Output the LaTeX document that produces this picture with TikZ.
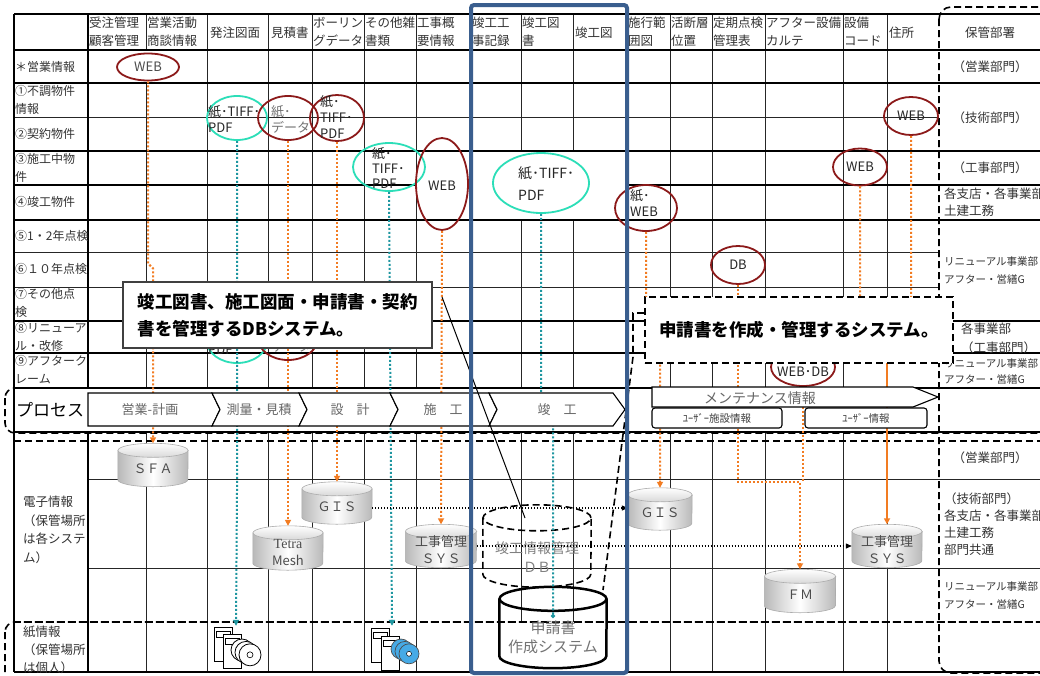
\documentclass[tikz,border=0pt]{standalone}
\usepackage{fontspec}
\setmainfont{Noto Sans CJK JP}
\newfontfamily\latinserif{Liberation Serif}
\usetikzlibrary{shapes.geometric,arrows.meta,calc}

\definecolor{dred}{RGB}{140,26,26}
\definecolor{aqua}{RGB}{44,222,184}
\definecolor{orng}{RGB}{242,124,34}
\definecolor{tealdot}{RGB}{30,150,160}
\definecolor{navy}{RGB}{58,94,142}
\definecolor{cdblue}{RGB}{70,170,230}

% grey database cylinder: name, cx, cy, width, height, label
\newcommand{\dbcyl}[6]{%
  \node[minimum width=#4pt, minimum height=#5pt, inner sep=0pt] (#1) at (#2,#3) {};
  \shade[left color=gray!55, right color=gray!55, middle color=white, draw=gray!65, line width=0.6pt]
    ($(#1.north west)+(0,7)$) -- ($(#1.south west)+(0,-7)$)
    arc[start angle=180, end angle=360, x radius=#4pt/2, y radius=7pt]
    -- ($(#1.north east)+(0,7)$) -- cycle;
  \shade[top color=white, bottom color=gray!30, draw=gray!65, line width=0.6pt]
    ($(#1.north)+(0,7)$) ellipse[x radius=#4pt/2, y radius=7pt];
  \node[cyltext] at ($(#1.center)+(0,4)$) {#6};
}

\begin{document}
\begin{tikzpicture}[x=1pt,y=-1pt,
  gl/.style={line width=0.9pt, black!85},
  gk/.style={line width=2.4pt, black},
  dsh/.style={line width=1.6pt, black, dash pattern=on 7pt off 4pt},
  redell/.style={ellipse, draw=dred, line width=1.8pt, inner sep=0pt},
  aquaell/.style={ellipse, draw=aqua, line width=1.8pt, inner sep=0pt},
  etxt/.style={font=\fontsize{13}{16}\selectfont, align=left, inner sep=0pt, text=black!85},
  odot/.style={draw=orng, line width=2pt, dash pattern=on 2pt off 2pt, -{Triangle[length=6pt,width=6pt]}},
  odotnt/.style={draw=orng, line width=2pt, dash pattern=on 2pt off 2pt},
  osolid/.style={draw=orng, line width=1.6pt, -{Triangle[length=6pt,width=6pt]}},
  tdot/.style={draw=tealdot, line width=2pt, dash pattern=on 2pt off 2pt, -{Triangle[length=6pt,width=6pt]}},
  kdot/.style={draw=black, line width=1.1pt, dash pattern=on 1.1pt off 1.9pt, -{Triangle[length=6pt,width=5pt]}},
  hdr/.style={font=\fontsize{12.5}{18}\selectfont, text=black!80, align=left, inner sep=0pt, anchor=west},
  lbl/.style={font=\fontsize{12}{18}\selectfont, text=black!80, align=left, inner sep=0pt, anchor=west},
  dept/.style={font=\fontsize{12.5}{17}\selectfont, text=black!80, align=left, inner sep=0pt, anchor=west},
  deptsm/.style={font=\fontsize{10.5}{18}\selectfont, text=black!80, align=left, inner sep=0pt, anchor=west},
  chev/.style={draw=black, fill=white, line width=1.1pt},
  ctxt/.style={font=\fontsize{13}{15}\selectfont, text=black!60, inner sep=0pt},
  cyltext/.style={font=\fontsize{13}{17}\selectfont, text=black!70, align=center, inner sep=0pt},
  callout/.style={fill=white, line width=1.1pt, inner sep=0pt, align=left,
                  font=\bfseries\fontsize{17.5}{27}\selectfont},
]
\clip (0,0) rectangle (1040,675);
\fill[white] (0,0) rectangle (1040,675);

% ---------- grid: vertical rules ----------
\foreach \x in {207,268,312,364,416,470,627,670,712,765,843,887}
  \draw[gl] (\x,14) -- (\x,388);
\draw[gl] (146,14) -- (146,50);
\draw[gl] (146,83) -- (146,388);
\foreach \x in {521,573} {
  \draw[gl] (\x,14) -- (\x,151);
  \draw[gl] (\x,220) -- (\x,388);
  \draw[gl] (\x,432) -- (\x,622);
}
\foreach \x in {146,207,268,312,364,416,470,627,670,712,765,843,887}
  \draw[gl] (\x,432) -- (\x,672);

% ---------- grid: horizontal rules ----------
\foreach \y in {117,252,287} \draw[gl] (14,\y) -- (939,\y);
\foreach \y in {479,568} \draw[gl] (88,\y) -- (1040,\y);
\foreach \y in {14,50,83,151,220,388,432,672} \draw[gk] (14,\y) -- (1040,\y);
\draw[gk] (14,185) -- (416,185);
\draw[gk] (627,185) -- (1040,185);
\foreach \y in {321,353} {\draw[gk] (14,\y) -- (939,\y); \draw[gk] (953,\y) -- (1040,\y);}
\draw[gk] (14,14) -- (14,672);
\draw[gk] (88,14) -- (88,388);
\draw[gk] (88,432) -- (88,672);

% ---------- dashed groupings ----------
\draw[dsh] (14,441) -- (1040,441);
\draw[dsh] (14,622) -- (1040,622);
\draw[dsh, rounded corners=12pt] (939,7) rectangle (1090,673);
\draw[dsh, rounded corners=10pt] (5,388) rectangle (1090,433);
\draw[dsh, rounded corners=10pt] (5,622) rectangle (1090,700);

% ---------- column headings ----------
\node[hdr] (h1) at (89,32) {受注管理\\顧客管理};
\node[hdr] (h2) at (147,32) {営業活動\\商談情報};
\node[hdr] (h3) at (210,33) {発注図面};
\node[hdr] (h4) at (271,33) {見積書};
\node[hdr] (h5) at (313,32) {ボーリン\\グデータ};
\node[hdr] (h6) at (365,32) {その他雑\\書類};
\node[hdr] (h7) at (417,32) {工事概\\要情報};
\node[hdr] (h8) at (472,32) {竣工工\\事記録};
\node[hdr] (h9) at (522,32) {竣工図\\書};
\node[hdr] (h10) at (575,33) {竣工図};
\node[hdr] (h11) at (628,32) {施行範\\囲図};
\node[hdr] (h12) at (671,32) {活断層\\位置};
\node[hdr] (h13) at (713,32) {定期点検\\管理表};
\node[hdr] (h14) at (766,32) {アフター設備\\カルテ};
\node[hdr] (h15) at (844,32) {設備\\コード};
\node[hdr] (h16) at (889,33) {住所};
\node[hdr, anchor=center] (h17) at (990,33) {保管部署};

% ---------- row headings ----------
\node[lbl] (r0) at (15,67) {＊営業情報};
\node[lbl] (r1) at (15,100) {①不調物件\\情報};
\node[lbl] (r2) at (15,134) {②契約物件};
\node[lbl] (r3) at (15,168) {③施工中物\\件};
\node[lbl] (r4) at (15,202) {④竣工物件};
\node[lbl] (r5) at (15,236) {⑤1・2年点検};
\node[lbl] (r6) at (15,269) {⑥１０年点検};
\node[lbl] (r7) at (15,303) {⑦その他点\\検};
\node[lbl] (r8) at (15,337) {⑧リニューア\\ル・改修};
\node[lbl] (r9) at (15,370) {⑨アフターク\\レーム};
\node[font=\fontsize{17}{20}\selectfont, anchor=west, inner sep=0pt] (rp) at (16,410) {プロセス};
\node[lbl, font=\fontsize{12.5}{18.5}\selectfont] (re) at (23,530) {電子情報\\（保管場所\\は各システ\\ム）};
\node[lbl, font=\fontsize{12.5}{18}\selectfont] (rpa) at (23,650) {紙情報\\（保管場所\\は個人）};

% ---------- departments ----------
\node[dept, anchor=center] (d0) at (990,67) {（営業部門）};
\node[dept, anchor=center] (d1) at (990,118) {（技術部門）};
\node[dept, anchor=center] (d2) at (990,168) {（工事部門）};
\node[dept] (d3) at (944,202) {各支店・各事業部\\土建工務};
\node[deptsm] (d4) at (944,271) {リニューアル事業部\\アフター・営繕G};
\node[dept, font=\fontsize{12.5}{19}\selectfont] (d5) at (961,338) {各事業部\\（工事部門）};
\node[deptsm, font=\fontsize{10.5}{16}\selectfont] (d6) at (944,372) {リニューアル事業部\\アフター・営繕G};
\node[dept, anchor=center] (d7) at (990,458) {（営業部門）};
\node[dept] (d8) at (944,524) {（技術部門）\\各支店・各事業部\\土建工務\\部門共通};
\node[deptsm] (d9) at (944,595) {リニューアル事業部\\アフター・営繕G};

% ---------- media ellipses ----------
\node[aquaell, minimum width=60pt, minimum height=44pt] (eT1b) at (237,341) {};
\node[etxt] at (208,341) [anchor=west] {紙･TIFF･\\PDF};
\node[redell, minimum width=60pt, minimum height=44pt] (eDb) at (288,338) {};
\node[etxt, text=black!55] at (272,338) [anchor=west] {紙･\\データ};

\node[redell, minimum width=62pt, minimum height=27pt] (eW1) at (148,67) {};
\node[etxt, text=black!70] at (eW1) {WEB};
\node[aquaell, minimum width=60pt, minimum height=44pt] (eT1) at (237,118) {};
\node[etxt, anchor=west] at (208,119) {紙･TIFF･\\PDF};
\node[redell, minimum width=60pt, minimum height=44pt] (eD) at (288,118) {};
\node[etxt, anchor=west, text=black!55] at (271,119) {紙･\\データ};
\node[redell, minimum width=54pt, minimum height=46pt] (eB) at (337,118) {};
\node[etxt, anchor=west, font=\fontsize{13}{16}\selectfont] at (320,117) {紙･\\TIFF･\\PDF};
\node[aquaell, minimum width=72pt, minimum height=48pt] (eT2) at (389,167) {};
\node[etxt, anchor=west, font=\fontsize{13}{15}\selectfont] at (372,168) {紙･\\TIFF･\\PDF};
\node[redell, minimum width=52pt, minimum height=92pt] (eW2) at (442,184) {};
\node[etxt] at (442,186) {WEB};
\node[aquaell, minimum width=96pt, minimum height=60pt] (eT3) at (541,183) {};
\node[etxt, anchor=west, font=\fontsize{14}{22}\selectfont] at (518,184) {紙･TIFF･\\PDF};
\node[redell, minimum width=62pt, minimum height=46pt] (eW3) at (646,208) {};
\node[etxt, anchor=west, font=\fontsize{13}{16}\selectfont] at (630,203) {紙･\\WEB};
\node[redell, minimum width=54pt, minimum height=38pt] (eW4) at (911,116) {};
\node[etxt] at (eW4) {WEB};
\node[redell, minimum width=54pt, minimum height=37pt] (eW5) at (860,167) {};
\node[etxt] at (eW5) {WEB};
\node[redell, minimum width=54pt, minimum height=38pt] (eDB) at (738,265) {};
\node[etxt] at (eDB) {DB};
\node[redell, minimum width=64pt, minimum height=38pt] (eWD) at (803,367) {};
\node[etxt] at (803,372) {WEB･DB};

% ---------- systems ----------
\dbcyl{sfa}{153}{465}{70}{43}{ＳＦＡ}
\dbcyl{gisL}{337}{503}{70}{42}{ＧＩＳ}
\dbcyl{tetra}{288}{548}{70}{44}{\latinserif\fontsize{14}{17}\selectfont Tetra\\Mesh}
\dbcyl{sysL}{441}{546}{71}{43}{工事管理\\ＳＹＳ}
\dbcyl{gisR}{660}{509}{64}{42}{ＧＩＳ}
\dbcyl{sysR}{887}{546}{70}{43}{工事管理\\ＳＹＳ}
\dbcyl{fm}{800}{591}{71}{43}{ＦＭ}

% as-built information DB (planned)
\node[minimum width=108pt, minimum height=82pt, inner sep=0pt] (kdb) at (537,546) {};
\draw[dsh] ($(kdb.north west)+(0,13)$) -- ($(kdb.south west)+(0,-13)$)
  arc[start angle=180, end angle=360, x radius=54pt, y radius=13pt]
  -- ($(kdb.north east)+(0,13)$);
\draw[dsh] ($(kdb.north)+(0,13)$) ellipse[x radius=54pt, y radius=13pt];
\node[cyltext, text=black!50, font=\fontsize{14}{19}\selectfont] at (537,557) {竣工情報管理\\ＤＢ};

% application system
\node[minimum width=107pt, minimum height=81pt, inner sep=0pt] (shin) at (553,627.5) {};
\draw[line width=2.5pt] ($(shin.north west)+(0,12)$) -- ($(shin.south west)+(0,-12)$)
  arc[start angle=180, end angle=360, x radius=53.5pt, y radius=12pt]
  -- ($(shin.north east)+(0,12)$);
\draw[line width=2.5pt] ($(shin.north)+(0,12)$) ellipse[x radius=53.5pt, y radius=12pt];
\node[cyltext, text=black!55, font=\fontsize{15}{19}\selectfont] at (553,637) {申請書\\作成システム};
\coordinate (shinpt) at (553,618);

% ---------- paper archives ----------
\node[minimum width=46pt, minimum height=44pt, inner sep=0pt] (icon1) at (236,648) {};
\filldraw[fill=white, draw=black, line width=0.8pt] (214,627) rectangle (232,661);
\draw[line width=0.6pt] (216,631) rectangle (230,637);
\filldraw[fill=white, draw=black, line width=0.8pt] (223,634) rectangle (241,668);
\draw[line width=0.6pt] (225,638) rectangle (239,644);
\foreach \d in {0,4,8} {
  \filldraw[fill=white, draw=black, line width=0.8pt] (242+\d,650+\d*0.6) circle (11pt);
  \draw[line width=0.6pt] (242+\d,650+\d*0.6) circle (3pt);
}
\node[minimum width=46pt, minimum height=44pt, inner sep=0pt] (icon2) at (392,648) {};
\filldraw[fill=white, draw=black, line width=0.8pt] (371,628) rectangle (389,662);
\draw[line width=0.6pt] (373,632) rectangle (387,638);
\filldraw[fill=white, draw=black, line width=0.8pt] (381,636) rectangle (399,670);
\draw[line width=0.6pt] (383,640) rectangle (397,646);
\foreach \d in {0,4,8} {
  \filldraw[fill=cdblue, draw=black!70, line width=0.7pt] (401+\d,649+\d*0.6) circle (10pt);
  \draw[fill=white, line width=0.5pt] (401+\d,649+\d*0.6) circle (2.5pt);
}

% ---------- information flows ----------
\draw[odot] (eW1.south) -- ++(0,182) -- ++(5,5) -- (sfa.north);
\draw[tdot] (eT1.south) -- ++(0,350) -- (icon1.north);
\draw[odot] (eD.south) -- (tetra.north);
\draw[odot] (eB.south) -- (gisL.north);
\draw[tdot] (eT2.south) -- (icon2.north);
\draw[odot] (eW2.south) -- (sysL.north);
\draw[draw=tealdot, line width=2pt, dash pattern=on 2pt off 2pt, -{Circle[length=4pt]}]
  (eT3.south) -- ++(0,187) -- ++(12,10) -- (shinpt);
\draw[odot] (eW3.south) -- ++(0,70) -- ++(14,10) -- (gisR.north);
\coordinate (j1) at (738,482);
\coordinate (j2) at (800,482);
\draw[odot] (eDB.south) -- (j1) -- (j2) -- (fm.north);
\draw[odotnt] (eWD.south) -- (eWD.south |- j2);
\coordinate (jm) at (887,330);
\draw[odotnt] (eW5.south) -- ++(0,115) -- (jm);
\draw[odotnt] (eW4.south) -- ++(0,165) -- (jm);
\draw[osolid] (jm) -- (sysR.north);
\coordinate (g1) at ($(gisL.east)+(0,5)$);
\draw[kdot] (g1) -- (g1 -| gisR.west);
\draw[kdot] (sysL.east) -- (sysR.west);

% ---------- process chevrons ----------
\filldraw[chev] (88,393) -- (212,393) -- (220,409.5) -- (212,426) -- (88,426) -- cycle;
\filldraw[chev] (212,393) -- (299,393) -- (307,409.5) -- (299,426) -- (212,426) -- (220,409.5) -- cycle;
\filldraw[chev] (299,393) -- (390,393) -- (398,409.5) -- (390,426) -- (299,426) -- (307,409.5) -- cycle;
\filldraw[chev] (390,393) -- (489,393) -- (497,409.5) -- (489,426) -- (390,426) -- (398,409.5) -- cycle;
\filldraw[chev] (489,393) -- (613,393) -- (625,409.5) -- (613,426) -- (489,426) -- (497,409.5) -- cycle;
\node[ctxt] (p1) at (150,409.5) {営業-計画};
\node[ctxt] (p2) at (259,409.5) {測量・見積};
\node[ctxt] (p3) at (350,409.5) {設　計};
\node[ctxt] (p4) at (443,409.5) {施　工};
\node[ctxt] (p5) at (557,409.5) {竣　工};
\filldraw[chev] (652,387) -- (913,387) -- (938,397) -- (913,407) -- (652,407) -- cycle;
\node[ctxt, font=\fontsize{14}{16}\selectfont] (p6) at (760,398) {メンテナンス情報};
\filldraw[chev, rounded corners=3pt] (652,408) rectangle (782,428);
\filldraw[chev, rounded corners=3pt] (805,408) rectangle (927,428);
\node[ctxt, text=black!75, font=\fontsize{10.5}{12}\selectfont] (p7) at (717,418) {ﾕｰｻﾞｰ施設情報};
\node[ctxt, text=black!75, font=\fontsize{10.5}{12}\selectfont] (p8) at (866,418) {ﾕｰｻﾞｰ情報};

% ---------- call-outs ----------
\node[callout, draw=black!75, minimum width=309pt, minimum height=66pt] (co1) at (277.5,315)
  {竣工図書、施工図面・申請書・契約\\書を管理するDBシステム。};
\coordinate (p1a) at (442,297);
\coordinate (p1b) at (525,518);
\draw[line width=1pt] (p1a) -- (p1b);

\node[callout, draw=black, dsh, fill=white, minimum width=308pt, minimum height=66pt] (co2) at (799,330)
  {申請書を作成・管理するシステム。};
\coordinate (p2a) at (633,313);
\coordinate (p2b) at (633,357);
\coordinate (p2c) at (603,590);
\draw[dsh] (co2.west |- p2a) -- (p2a) -- (p2b) -- (p2c);

% ---------- as-built scope frame ----------
\draw[navy, line width=4pt, rounded corners=3pt] (471,5) rectangle (627,673);
\end{tikzpicture}
\end{document}
